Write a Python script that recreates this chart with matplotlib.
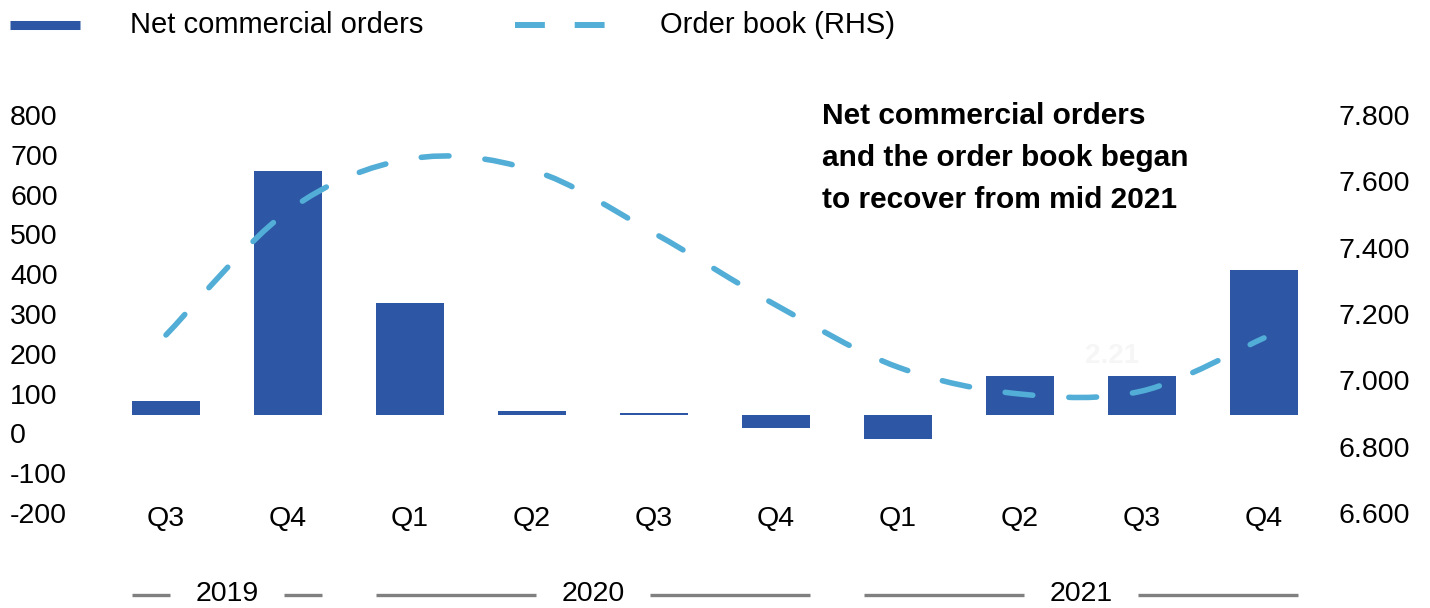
import numpy as np
import matplotlib.pyplot as plt
from matplotlib.path import Path
from matplotlib.patches import PathPatch
from matplotlib.lines import Line2D
from matplotlib.transforms import ScaledTranslation, blended_transform_factory

plt.rcParams['font.family'] = ['Liberation Sans', 'DejaVu Sans']

# data
quarters = ['Q3', 'Q4', 'Q1', 'Q2', 'Q3', 'Q4', 'Q1', 'Q2', 'Q3', 'Q4']
net_orders = [34, 614, 280, 11, 6, -34, -60, 97, 97, 363]
order_book = [7.081, 7.455, 7.612, 7.578, 7.388, 7.171, 6.984, 6.903, 6.912, 7.072]
years = ['2019', '2020', '2021']
year_span = [(0, 1), (2, 5), (6, 9)]
left_ticks = [-200, -100, 0, 100, 200, 300, 400, 500, 600, 700, 800]
right_ticks = [6.6, 6.8, 7.0, 7.2, 7.4, 7.6, 7.8]
note_lines = ['Net commercial orders', 'and the order book began', 'to recover from mid 2021']

BAR = '#2D56A5'
LINE = '#52AED6'
GREY = '#808080'

W, H = 1430, 608
fig = plt.figure(figsize=(W / 100, H / 100), dpi=100)
ax = fig.add_axes([105 / W, 1 - 494.5 / H, 1220 / W, 398 / H])
ax2 = ax.twinx()

x = np.arange(len(quarters))
ax.bar(x, net_orders, width=0.557, color=BAR, zorder=2)
ax.set_xlim(-0.5, 9.5)
ax.set_ylim(-200, 800)
ax2.set_ylim(6.6, 7.8)

# smoothed dashed line for order book (bezier through the points)
pts = np.column_stack([x, order_book]).astype(float)
verts = [pts[0]]
codes = [Path.MOVETO]
n = len(pts)
for i in range(n - 1):
    p_prev = pts[i - 1] if i > 0 else pts[i]
    p_next2 = pts[i + 2] if i + 2 < n else pts[i + 1]
    verts += [pts[i] + (pts[i + 1] - p_prev) / 6,
              pts[i + 1] - (p_next2 - pts[i]) / 6,
              pts[i + 1]]
    codes += [Path.CURVE4] * 3
curve = PathPatch(Path(verts, codes), facecolor='none', edgecolor=LINE,
                  lw=4.0, linestyle=(0, (5, 6.5)), capstyle='round', zorder=3)
ax2.add_patch(curve)

for a in (ax, ax2):
    for s in a.spines.values():
        s.set_visible(False)
    a.tick_params(length=0)

ax.set_xticks(x)
ax.set_xticklabels(quarters, fontsize=20.5)
ax.tick_params(axis='x', pad=8)

shift = ScaledTranslation(0, -18.5 / 100, fig.dpi_scale_trans)
ax.set_yticks(left_ticks)
ax.set_yticklabels([str(t) for t in left_ticks], fontsize=20.5, ha='left')
ax.tick_params(axis='y', pad=68.4)
ax2.set_yticks(right_ticks)
ax2.set_yticklabels(['%.3f' % t for t in right_ticks], fontsize=20.5)
ax2.tick_params(axis='y', pad=10)
for lab in ax.get_yticklabels() + ax2.get_yticklabels():
    lab.set_transform(lab.get_transform() + shift)

# year groups below the quarter labels
tr = blended_transform_factory(ax.transData, ax.transAxes)
for yr, (s, e) in zip(years, year_span):
    mid = (s + e) / 2
    ax.text(mid, -0.25, yr, transform=tr, ha='center', va='center', fontsize=20.5)
    ax.plot([s - 0.28, mid - 0.47], [-0.2525, -0.2525], transform=tr,
            color=GREY, lw=2.4, clip_on=False, solid_capstyle='butt')
    ax.plot([mid + 0.47, e + 0.28], [-0.2525, -0.2525], transform=tr,
            color=GREY, lw=2.4, clip_on=False, solid_capstyle='butt')

# legend
fig.add_artist(Line2D([10 / W, 80 / W], [1 - 25 / H] * 2, color=BAR, lw=6.5,
                      solid_capstyle='butt'))
fig.text(130 / W, 1 - 25 / H, 'Net commercial orders', fontsize=21, va='center')
fig.add_artist(Line2D([515 / W, 605 / W], [1 - 25 / H] * 2, color=LINE, lw=4.3,
                      linestyle=(0, (5, 5)), dash_capstyle='butt'))
fig.text(660 / W, 1 - 25 / H, 'Order book (RHS)', fontsize=21, va='center')

# note
for k, line in enumerate(note_lines):
    fig.text(822 / W, 1 - (116 + 42 * k) / H, line, fontsize=21.5,
             fontweight='bold', va='center')

# faint data label
fig.text(1112 / W, 1 - 356 / H, '2.21', fontsize=20, fontweight='bold',
         color='#f6f6f6', ha='center', va='center')

fig.savefig('out.png', dpi=100)
